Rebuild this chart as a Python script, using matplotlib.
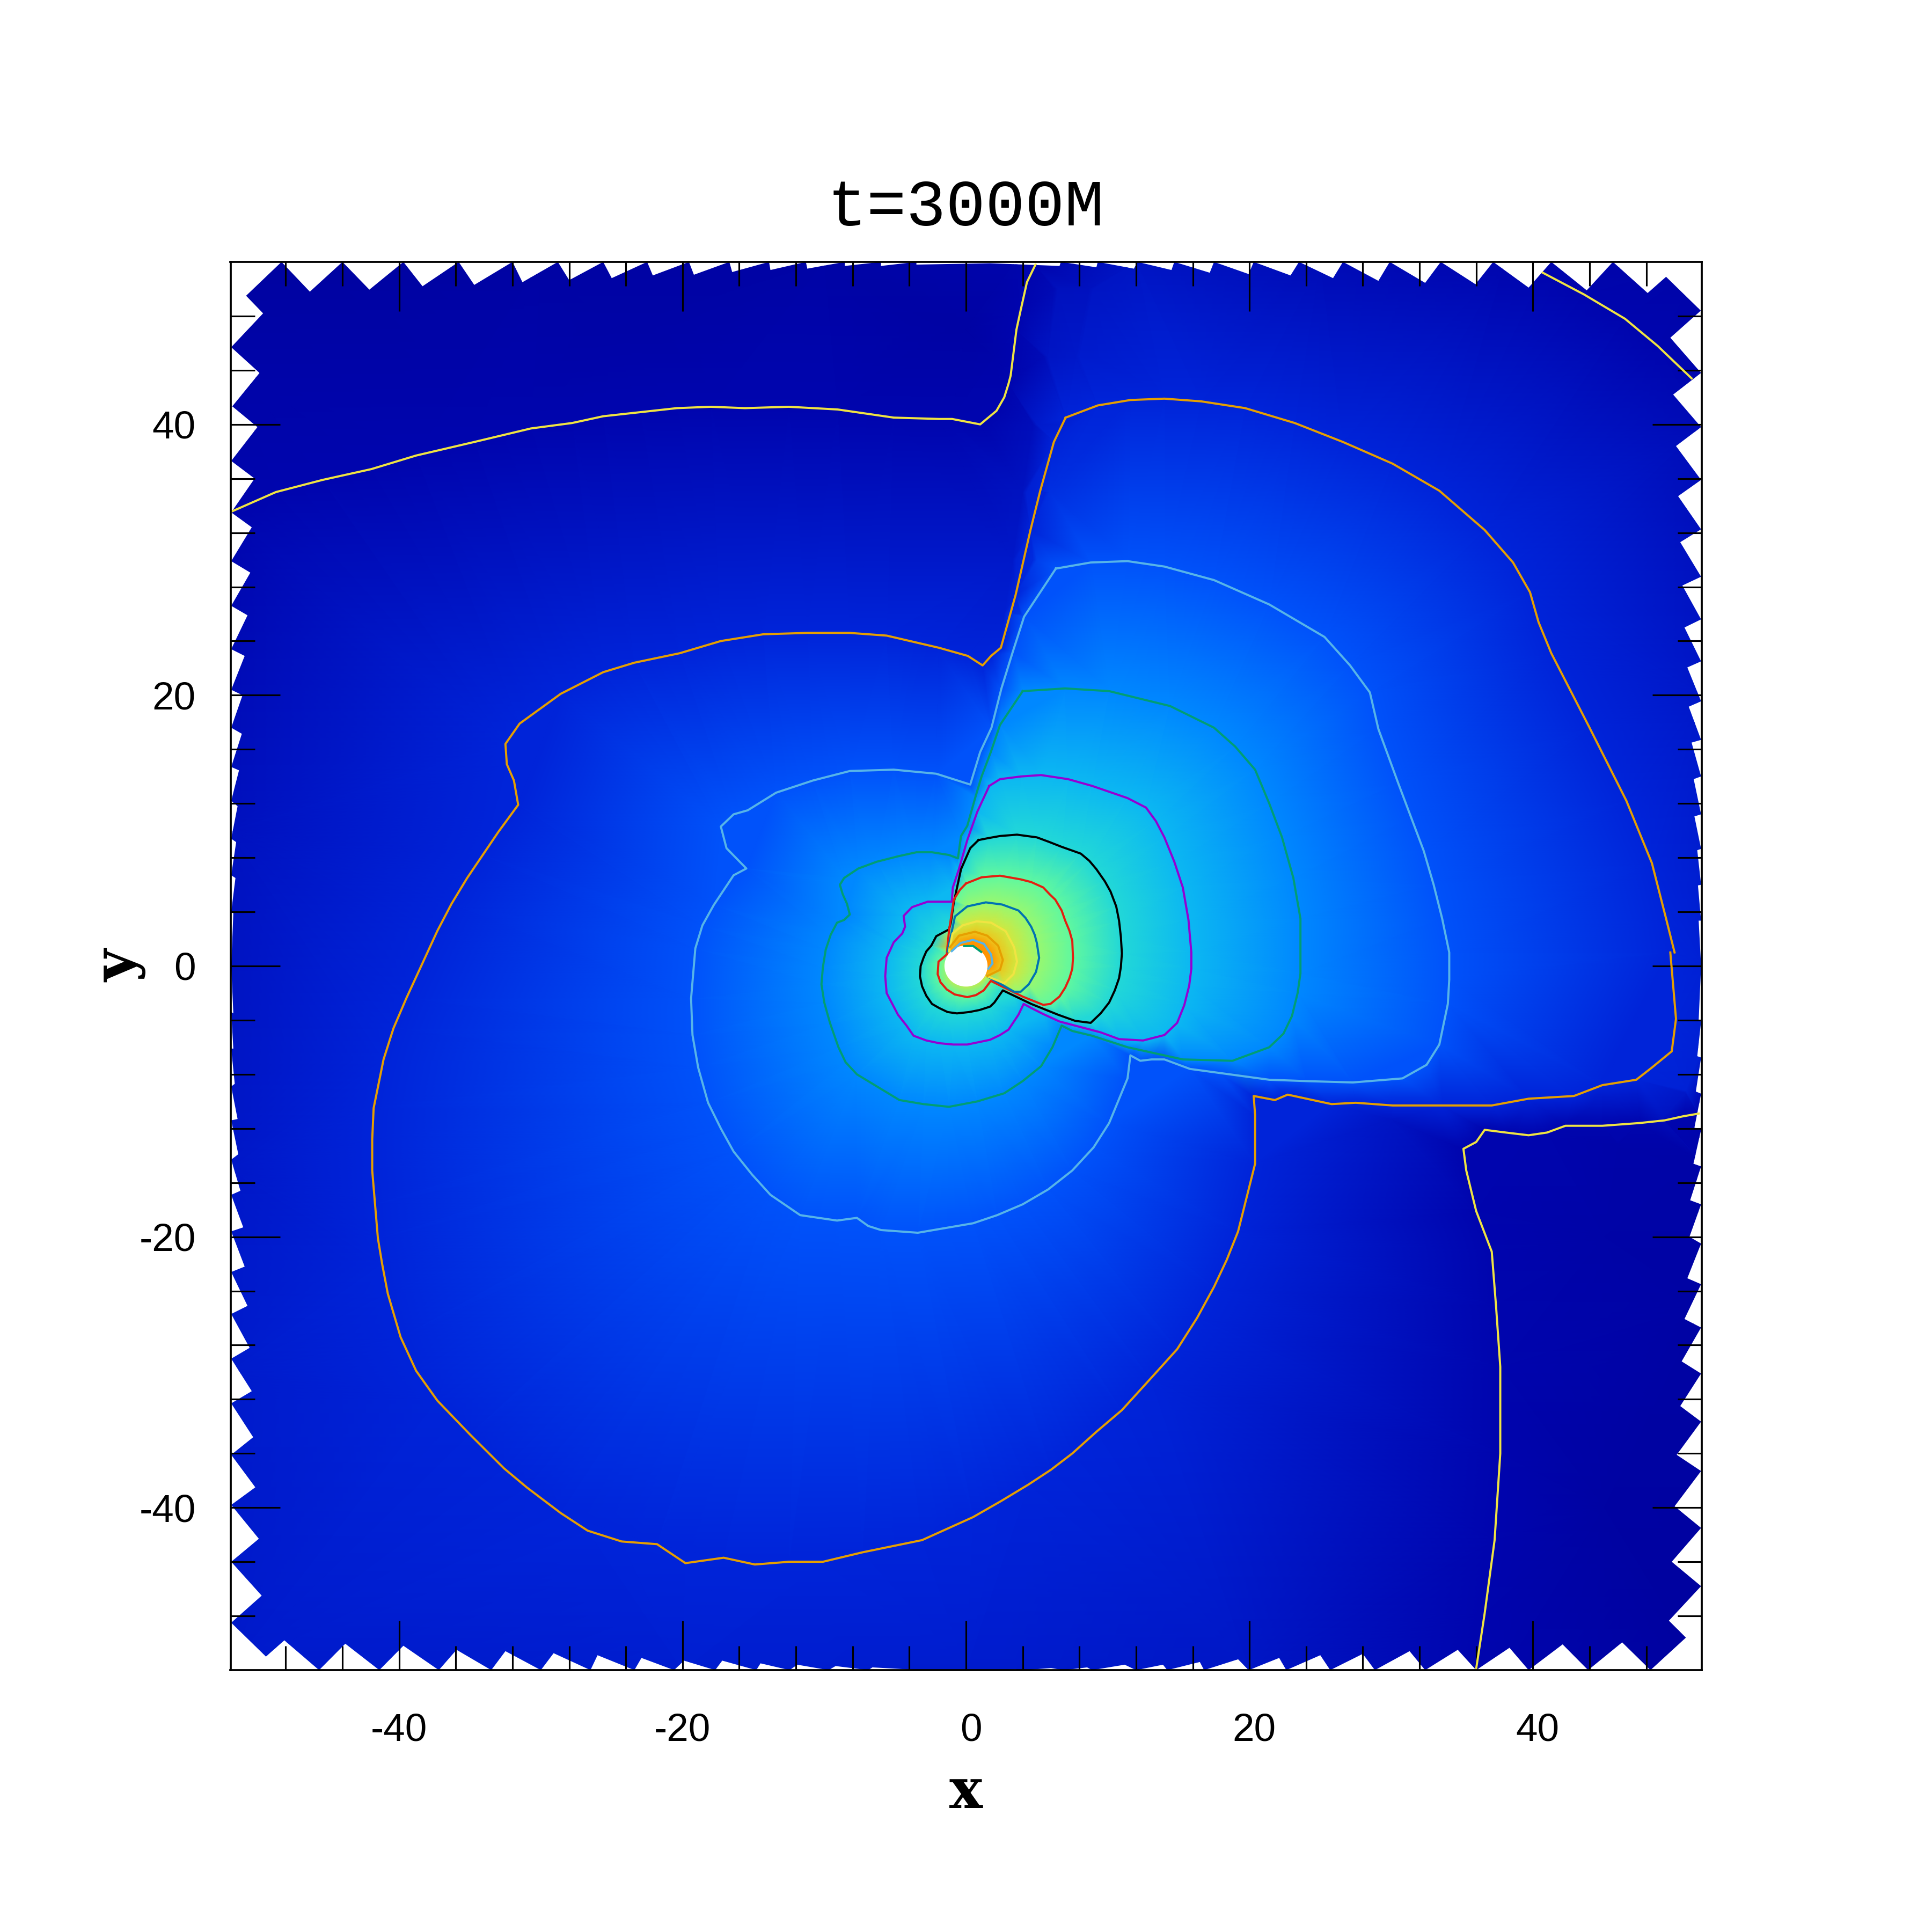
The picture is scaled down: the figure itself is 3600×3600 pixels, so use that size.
import numpy as np
import matplotlib
matplotlib.use("Agg")
import matplotlib.pyplot as plt
from matplotlib.colors import LinearSegmentedColormap, Normalize
from matplotlib.patches import Polygon, Circle
from matplotlib.transforms import ScaledTranslation
from matplotlib.tri import Triangulation

# ---- contour traces (x, y) with their level index ----
yellow_a = [(-51.96,33.5),(-48.7,35),(-45.4,35.9),(-41.95,36.7),(-38.8,37.7),(-34.7,38.7),(-30.7,39.7),(-27.8,40.1),(-25.6,40.6),(-23,40.9),(-20.4,41.2),(-18,41.3),(-15.6,41.2),(-12.5,41.3),(-9.05,41.1),(-5.1,40.5),(-1.9,40.4),(-0.98,40.4),(1,40),(2.15,41),(2.7,42),(3,43),(3.15,43.6),(3.56,47),(3.85,48.4),(4.3,50.5),(4.9,51.8)]
yellow_b = [(40.7,51.2),(43.6,49.6),(46.5,47.8),(48.8,45.8),(50.6,44),(51.2,43.4)]
yellow_c = [(51.7,-10.9),(50.6,-11.1),(49.3,-11.4),(47.5,-11.6),(44.9,-11.8),(42.3,-11.8),(41,-12.3),(39.7,-12.5),(38.1,-12.3),(36.6,-12.1),(36,-13),(35.1,-13.5),(35.3,-15.1),(36,-18.1),(37.1,-21.1),(37.4,-25.1),(37.7,-29.6),(37.7,-36),(37.3,-42.4),(36.6,-47.8),(36,-51.9)]
orange_a = [(7.03,40.5),(9.3,41.4),(11.6,41.8),(14,41.9),(16.6,41.7),(19.7,41.2),(23.2,40.1),(26.6,38.7),(30.1,37.1),(33.4,35.1),(36.6,32.2),(38.6,29.8),(39.8,27.6),(40.4,25.4),(41.3,23.1),(44,17.6),(46.6,12.2),(48.4,7.6),(49.4,3.5),(50,1)]
orange_b = [(49.7,1),(50.1,-3.9),(49.8,-6.3),(48.4,-7.5),(47.3,-8.4),(44.9,-8.8),(42.9,-9.6),(39.7,-9.8),(37.1,-10.3),(33.6,-10.3),(30.1,-10.3),(27.5,-10.1),(25.8,-10.2),(22.7,-9.5),(21.8,-9.9),(20.3,-9.6),(20.4,-11),(20.4,-14.6),(19.2,-19.6),(18.4,-21.7),(17.5,-23.7),(16.3,-26),(14.9,-28.3),(13,-30.5),(11,-32.8),(9.2,-34.4),(7.5,-36),(6,-37.2),(4.4,-38.3),(2.5,-39.5),(0.5,-40.7),(-3.1,-42.4),(-7.3,-43.3),(-10.1,-44),(-12.5,-44),(-14.9,-44.2),(-17.1,-43.7),(-19.8,-44.1),(-21.8,-42.7),(-24.3,-42.5),(-26.7,-41.7),(-28.6,-40.4),(-31,-38.5),(-32.6,-37.1),(-35,-34.6),(-37.3,-32.1),(-38.8,-29.9),(-39.9,-27.4),(-40.8,-24.2),(-41.2,-22),(-41.5,-20.1),(-41.7,-17.6),(-41.9,-15.1),(-41.9,-12.8),(-41.8,-10.5),(-41.1,-6.9),(-40.4,-4.6),(-39.5,-2.4),(-37.3,2.6),(-36.3,4.6),(-35.2,6.5),(-34.1,8.2),(-33,9.9),(-31.6,11.9),(-31.9,13.7),(-32.4,14.9),(-32.5,16.4),(-31.5,17.9),(-28.6,20.1),(-25.6,21.7),(-23.4,22.4),(-20.2,23.1),(-17.3,24),(-14.3,24.5),(-11.2,24.6),(-8.2,24.6),(-5.6,24.4),(-1.9,23.5),(0.13,22.9),(1.17,22.2),(1.77,22.9),(2.46,23.5),(3.5,27.4),(4.55,32.2),(5.24,35.1),(6.2,38.7),(7.03,40.5)]
sky_outer = [(6.34,29.35),(8.8,29.8),(11.4,29.9),(14,29.5),(17.5,28.5),(21.4,26.7),(25.3,24.3),(27.1,22.2),(28.5,20.2),(29.1,17.5),(30.5,13.5),(31.4,11),(32.3,8.5),(33,6),(33.6,3.5),(34.1,1),(34.1,-1),(34,-2.8),(33.4,-5.8),(32.5,-7.3),(30.8,-8.3),(27.3,-8.6),(24,-8.5),(21.4,-8.4),(17.9,-7.9),(15.8,-7.6),(14,-6.9),(13.1,-6.9),(12.3,-7),(11.6,-6.6),(11.4,-8.3),(10.1,-11.6),(9,-13.4),(7.5,-15.1),(5.8,-16.5),(4,-17.6),(2.2,-18.4),(0.5,-19),(-3.4,-19.7),(-6,-19.5),(-6.9,-19.2),(-7.7,-18.6),(-9.1,-18.8),(-11.7,-18.4),(-13.8,-16.9),(-15.1,-15.4),(-16.4,-13.7),(-17.3,-12),(-18.2,-10.1),(-18.9,-7.5),(-19.3,-5.1),(-19.4,-2.4),(-19.1,1.3),(-18.6,3),(-17.8,4.5),(-16.4,6.7),(-15.5,7.2),(-16.9,8.7),(-17.3,10.3),(-16.4,11.2),(-15.4,11.5),(-13.4,12.8),(-10.8,13.7),(-8.2,14.4),(-5.1,14.5),(-2.1,14.2),(0.3,13.4),(1,15.8),(1.8,17.6),(2.5,20.5),(3.3,23.2),(4.1,25.8),(6.34,29.35)]
green_outer = [(4,20.3),(2.4,17.8),(1.75,15.8),(1.1,14),(0.67,12.5),(0.09,10.35),(-0.35,9.6),(-0.57,7.95),(-1.2,8.2),(-2.4,8.4),(-3.5,8.4),(-4.8,8.1),(-6.3,7.7),(-7.6,7.2),(-8.6,6.5),(-8.9,6),(-8.7,5.3),(-8.4,4.6),(-8.2,3.8),(-8.6,3.4),(-9.1,3.2),(-9.55,2.3),(-9.9,1.2),(-10.1,-0.1),(-10.2,-1.35),(-10,-2.7),(-9.6,-4.2),(-9,-6),(-8.5,-7.1),(-7.7,-8),(-4.7,-9.9),(-3,-10.2),(-1.2,-10.4),(0.8,-10),(2.7,-9.4),(4,-8.5),(5.3,-7.4),(6.1,-6),(6.75,-4.4),(7.5,-4.8),(8.9,-5.15),(11.4,-6),(15.3,-6.9),(18.8,-7),(21.4,-6),(22.4,-5),(23,-3.7),(23.4,-2),(23.6,-0.55),(23.6,3.5),(23.1,6.5),(22.3,9.5),(21.4,12),(20.4,14.5),(19,16.2),(17.5,17.6),(14.4,19.2),(10.1,20.3),(7,20.5),(4,20.3)]
purple = [(1.64,13.3),(2.4,13.8),(3.9,14),(5.3,14.1),(7.2,13.8),(8.9,13.3),(11.4,12.4),(12.7,11.7),(13.4,10.7),(14,9.5),(14.7,7.7),(15.3,5.8),(15.7,3.4),(15.9,1),(15.9,-0.2),(15.75,-1.45),(15.4,-2.9),(14.9,-4.2),(14,-5.1),(12.5,-5.5),(10.8,-5.4),(9.5,-4.9),(6.6,-4.1),(5.45,-3.55),(4.6,-3.1),(4.07,-2.8),(3.7,-3.6),(3,-4.7),(2.4,-5.1),(1.7,-5.45),(0.09,-5.8),(-0.9,-5.8),(-1.9,-5.7),(-2.8,-5.5),(-3.7,-5.15),(-4.2,-4.4),(-4.8,-3.6),(-5.2,-2.8),(-5.6,-2),(-5.7,-0.75),(-5.6,0.6),(-5.1,1.75),(-4.5,2.4),(-4.3,2.9),(-4.4,3.7),(-3.8,4.35),(-2.7,4.75),(-1,4.75),(-0.93,5.8),(-0.5,7.15),(0.09,9.3),(0.8,11.4),(1.64,13.3)]
black = [(0.88,9.3),(1.6,9.45),(2.4,9.6),(3.6,9.7),(5,9.5),(5.9,9.15),(6.75,8.8),(8.1,8.3),(8.7,7.77),(9.2,7.15),(9.8,6.25),(10.2,5.5),(10.6,4.4),(10.8,3.35),(10.93,2.14),(11,0.93),(10.93,-0.06),(10.8,-0.9),(10.5,-1.8),(10.1,-2.7),(9.5,-3.5),(8.8,-4.2),(7.7,-4.05),(6.5,-3.6),(4.6,-2.8),(3.4,-2.2),(2.6,-1.8),(2,-2.7),(1.7,-3),(0.96,-3.25),(0.23,-3.4),(-0.64,-3.5),(-1.3,-3.4),(-1.9,-3.1),(-2.4,-2.8),(-2.8,-2.2),(-3.1,-1.5),(-3.25,-0.75),(-3.2,0),(-3,0.6),(-2.8,1.08),(-2.45,1.5),(-2.1,2.2),(-1.2,2.7),(-1.07,3.2),(-0.86,4.7),(-0.35,7.15),(0.3,8.7),(0.88,9.3)]
red = [(0.01,6.1),(1.1,6.55),(2.4,6.67),(3.85,6.4),(4.6,6.2),(5.45,5.8),(5.9,5.3),(6.3,4.9),(6.75,4.1),(7,3.35),(7.3,2.6),(7.5,1.85),(7.55,0.6),(7.5,-0.2),(7.3,-0.9),(7,-1.6),(6.6,-2.25),(5.96,-2.8),(5.45,-2.87),(4,-2.26),(1.75,-1.1),(1.25,-1.8),(0.7,-2.15),(0.09,-2.3),(-0.8,-2.1),(-1.36,-1.73),(-1.8,-1.2),(-2,-0.6),(-1.94,0.32),(-1.36,0.85),(-1.2,2.6),(-0.86,4.9),(-0.42,5.64),(0.01,6.1)]
blue = [(-1.3,1.08),(-0.78,3.66),(0.09,4.4),(1.4,4.7),(2.55,4.54),(3.7,4.1),(4.2,3.55),(4.6,2.9),(4.85,2.3),(5,1.7),(5.16,0.6),(4.94,-0.44),(4.43,-1.35),(3.86,-1.9),(3.4,-1.9),(1.46,-0.74)]
yellow_in = [(-1.2,1.1),(-0.95,2.4),(-0.25,3),(0.76,3.3),(1.77,3.2),(2.8,2.57),(3.4,1.38),(3.6,0.32),(3.35,-0.6),(2.7,-1.27),(1.45,-0.74)]
orange_in = [(-1.14,1.38),(-0.5,2.24),(0.63,2.53),(1.5,2.24),(2.27,1.5),(2.6,0.45),(2.4,-0.28),(1.5,-0.74)]
sky_in = [(-1,1.1),(-0.38,1.7),(0.5,1.93),(1.26,1.64),(1.77,0.85),(1.87,0.19),(1.58,-0.2)]
green_in = [(-0.13,1.47),(0.5,1.48),(1.07,1.04)]

# name, level, colour
contour_sets = [
    (yellow_a, 0, "#F0E442"), (yellow_b, 0, "#F0E442"), (yellow_c, 0, "#F0E442"),
    (orange_a, 1, "#E69F00"), (orange_b, 1, "#E69F00"),
    (sky_outer, 2, "#56B4E9"), (green_outer, 3, "#009E73"), (purple, 4, "#9400D3"),
    (black, 5, "#000000"), (red, 6, "#E51E10"), (blue, 7, "#0072B2"),
    (yellow_in, 8, "#F0E442"), (orange_in, 9, "#E69F00"), (sky_in, 10, "#56B4E9"),
    (green_in, 11, "#009E73"),
]

# extra field readings away from the contours: x, y, level
field_probes = [
    (-52,52,-0.7),(-30,52,-0.5),(-10,52,-0.4),(3.5,52,-0.1),(12,52,0.5),(25,52,0.2),(38,52,0.0),(52,52,-0.3),
    (52,40,0.2),(52,20,0.6),(52,0,0.9),(52,-6,0.9),(52,-13,-0.1),(52,-25,-0.5),(52,-52,-0.8),(38,-52,-0.05),(20,-52,0.55),
    (0,-52,0.75),(-20,-52,0.8),(-52,-52,0.65),(-52,-30,0.7),(-52,-15,0.6),(-52,10,0.4),(-52,33.4,0.0),(-52,45,-0.35),
    (-25,47,-0.4),(0,47,-0.5),(2,45,-0.25),(45,-20,-0.35),(45,-40,-0.6),(30,-11.3,0.5),(44,-10.5,0.45),
    (6.2,50,0.18),(6.45,50,0.38),(8.7,50,0.42),(8.95,50,0.52),
    (5.5,45,0.22),(5.75,45,0.5),(7.75,45,0.62),(8,45,0.72),
    (4.75,40,0.3),(5,40,0.68),(6.72,40,0.85),
    (4.0,35,0.45),(4.25,35,0.85),(5.6,35,1.0),(5.85,35,1.25),
    (3.28,30,0.62),(3.52,30,0.92),(4.75,30,1.15),(5,30,1.6),
    (2.68,26,0.8),(2.92,26,1.15),(3.85,26,1.4),
    (50.8,-9.2,0.9),(50.8,-9.4,0.58),(49.2,-11.2,0.48),(49.2,-11.4,0.22),(51.5,-14,-0.02),(51.5,-14.2,-0.35),(46,-13,-0.05),(46,-13.2,-0.25),
    (1.5,0,10.8),(1.1,1.1,11.2),(0,1.5,11.1),(-0.8,1.3,10),(-1.5,0.2,6.8),(-1.06,-1.06,7.6),(0,-1.5,7.7),(1.06,-1.06,7.9),(1.4,-0.6,10.5),
]

# ---- outline of the covered region ----
outline_x = [-51.8,-49.85,-51.85,-49.6,-50.8,-48.3,-46.3,-44,-42.1,-39.7,-38.35,-35.8,-34.7,-32,-31.3,-28.8,-28,-25.6,-25,-22.5,-22.1,-19.55,-19.2,-16.7,-16.5,-13.9,-13.8,-11.3,-11.2,-8.55,-8.55,-6,-6,-3.5,-3.5,1.7,6.6,6.7,9.2,9.3,11.85,12.1,14.5,14.7,17.2,17.5,19.95,20.3,22.9,23.5,25.9,26.6,29.1,29.9,32.4,33.5,35.95,37.2,39.7,41.3,43.8,45.65,48.1,49.4,51.85,49.7,51.87,49.9,51.87,50.1,51.87,50.25,51.87,50.4,51.87,50.55,51.87,50.7,51.87,50.9,51.87,51,51.87,51.2,51.87,51.35,51.87,51.4,51.87,51.6,51.87,51.65,51.87,51.7,51.87,51.7,51.87,51.6,51.87,51.5,51.87,51.4,51.87,51.33,51.87,51.1,51.87,51.05,51.87,50.9,51.87,50.7,51.87,50.5,51.87,50.4,51.87,50.15,51.87,50,51.87,49.8,51.87,49.6,50.8,48.3,46.3,43.9,42.1,39.7,38.35,36,34.7,32.4,31.3,28.85,28,25.7,25,22.6,22.1,19.95,19.2,16.8,16.5,14.2,13.9,12,11.2,8.9,8.55,6.9,6,4.05,3.5,1,-1.8,-4,-6.6,-6.9,-9.2,-9.7,-11.9,-12.45,-14.5,-14.8,-17.2,-17.7,-19.9,-20.6,-22.9,-23.4,-26,-26.5,-29.1,-30,-32.5,-33.5,-35.95,-37.2,-39.7,-41.4,-43.8,-45.65,-48.1,-49.4,-51.85,-49.7,-51.85,-49.9,-51.85,-50.15,-51.85,-50.3,-51.85,-50.4,-51.85,-50.55,-51.85,-50.7,-51.85,-50.9,-51.85,-51,-51.85,-51.2,-51.85,-51.35,-51.85,-51.4,-51.85,-51.6,-51.85,-51.7,-51.85,-51.7,-51.85,-51.7,-51.85,-51.55,-51.85,-51.5,-51.85,-51.4,-51.85,-51.3,-51.85,-51.1,-51.85,-51.05,-51.85,-50.9,-51.85,-50.7,-51.85,-50.5,-51.85,-50.4,-51.85,-50.2,-51.85,-50,-51.85]
outline_y = [41.3,43.8,45.7,48.2,49.5,52,49.8,52,49.95,52,50.2,52,50.3,52,50.5,52,50.65,52,50.8,52,51,52,51.05,52,51.25,52,51.4,52,51.5,52,51.7,52,51.7,52,51.8,51.9,51.7,52,51.6,52,51.5,52,51.4,52,51.2,52,51.1,52,51,52,50.8,52,50.6,52,50.45,52,50.35,52,50.1,52,49.9,52,49.7,50.9,48.4,46.4,43.8,42.2,39.8,38.4,35.9,34.7,32.25,31.3,28.75,28.1,25.6,25,22.5,22.05,19.55,19.15,16.7,16.5,14,13.8,11.2,11.05,8.65,8.55,6,5.95,3.35,3.35,0,-4.02,-4.1,-6.66,-6.76,-9.27,-9.43,-11.94,-12.1,-14.6,-14.8,-17.3,-17.6,-20,-20.5,-23.06,-23.5,-26.07,-26.7,-29.2,-30.1,-32.5,-33.65,-36.1,-37.3,-39.9,-41.5,-44,-45.8,-48.35,-49.6,-52,-49.95,-52,-50.1,-52,-50.35,-52,-50.5,-52,-50.6,-52,-50.8,-52,-50.9,-52,-51.1,-52,-51.2,-52,-51.4,-52,-51.6,-52,-51.6,-52,-51.8,-52,-51.85,-52,-51.95,-52,-52,-51.95,-51.8,-52,-51.7,-52,-51.6,-52,-51.5,-52,-51.3,-52,-51.3,-52,-51.1,-52,-50.9,-52,-50.75,-52,-50.6,-52,-50.5,-52,-50.2,-52,-50.05,-52,-49.8,-51,-48.5,-46.5,-44,-42.3,-39.8,-38.5,-36.1,-34.8,-32.3,-31.4,-29,-28.2,-25.7,-25.1,-22.6,-22.2,-19.6,-19.3,-16.9,-16.6,-14.3,-13.9,-11.4,-11.3,-8.9,-8.7,-6.1,-6.1,-3.4,-3.5,0,3.9,4,6.5,6.7,9.15,9.4,11.8,12.2,14.45,14.7,17.15,17.6,20,20.4,22.9,23.4,25.9,26.6,29.05,29.9,32.4,33.5,36,37.3,39.8,41.4]

# ---- axis and colour tables ----
hole_radius = 1.52
x_major = [-40, -20, 0, 20, 40]
y_major = [-40, -20, 0, 20, 40]
minor_ticks = [-48,-44,-36,-32,-28,-24,-16,-12,-8,-4,4,8,12,16,24,28,32,36,44,48]
level_nodes = [-1.6, 0, 1, 2, 3, 4, 5, 6, 7, 8, 9, 10, 12]
level_colors = ["#000090", "#0005AE", "#0024D9", "#0052FA", "#0088FF", "#0CB8F2", "#22D8D8", "#60F8A0",
                "#98F870", "#D0E840", "#EAC820", "#FF9900", "#FF8800"]

plt.rcParams["font.family"] = ["Liberation Sans", "DejaVu Sans"]
fig = plt.figure(figsize=(12, 12), dpi=300, facecolor="white")
ax = fig.add_axes([429.5/3600, 488/3600, 2741/3600, 2624/3600])

# field built from the contour readings
pts = {}
for trace, level, _ in contour_sets:
    for p in trace:
        pts.setdefault(p, level)
for x, y, v in field_probes:
    pts.setdefault((x, y), v)
px = np.array([k[0] for k in pts], float)
py = np.array([k[1] for k in pts], float)
pv = np.array(list(pts.values()), float)
tri = Triangulation(px, py)

span = level_nodes[-1] - level_nodes[0]
cmap = LinearSegmentedColormap.from_list(
    "field", [((n - level_nodes[0]) / span, c) for n, c in zip(level_nodes, level_colors)], N=1024)
mesh = ax.tripcolor(tri, pv, shading="gouraud", cmap=cmap,
                    norm=Normalize(level_nodes[0], level_nodes[-1]), zorder=1)
mesh.set_clip_path(Polygon(np.column_stack([outline_x, outline_y]), closed=True, transform=ax.transData))

ax.add_patch(Circle((0, 0), hole_radius, fc="white", ec="none", zorder=2))
for trace, _, color in contour_sets:
    t = np.array(trace)
    ax.plot(t[:, 0], t[:, 1], color=color, lw=0.95, zorder=3, solid_joinstyle="round", clip_on=True)

ax.set_xlim(-51.9, 51.9)
ax.set_ylim(-52, 52)
ax.set_xticks(x_major)
ax.set_yticks(y_major)
ax.set_xticks(minor_ticks, minor=True)
ax.set_yticks(minor_ticks, minor=True)
ax.set_xticklabels([str(v) for v in x_major])
ax.set_yticklabels([str(v) for v in y_major])
ax.tick_params(which="major", direction="in", length=22, width=0.75, top=True, right=True,
               labelsize=17.5, color="black", zorder=5)
ax.tick_params(which="minor", direction="in", length=10.8, width=0.75, top=True, right=True, zorder=5)
ax.tick_params(axis="x", which="major", pad=19)
ax.tick_params(axis="y", which="major", pad=15.5)
shift = ScaledTranslation(9/300, 0, fig.dpi_scale_trans)
for val, lab in zip(x_major, ax.get_xticklabels()):
    if val >= 0:
        lab.set_transform(lab.get_transform() + shift)
for s in ax.spines.values():
    s.set_linewidth(0.9)
    s.set_zorder(6)
ax.set_axisbelow(False)

mono = ["Liberation Mono", "DejaVu Sans Mono"]
fig.text(1800/3600, 1-388/3600, "t=3000M", family=mono, fontsize=29.5, ha="center", va="center")
serif = ["DejaVu Serif", "Liberation Serif"]
fig.text(1800/3600, 1-3340/3600, "x", family=serif, fontsize=25, fontweight="bold", ha="center", va="center")
fig.text(222/3600, 1-1800/3600, "y", family=serif, fontsize=25, fontweight="bold", ha="center", va="center", rotation=90)

fig.savefig("out.png", dpi=300, facecolor="white")
